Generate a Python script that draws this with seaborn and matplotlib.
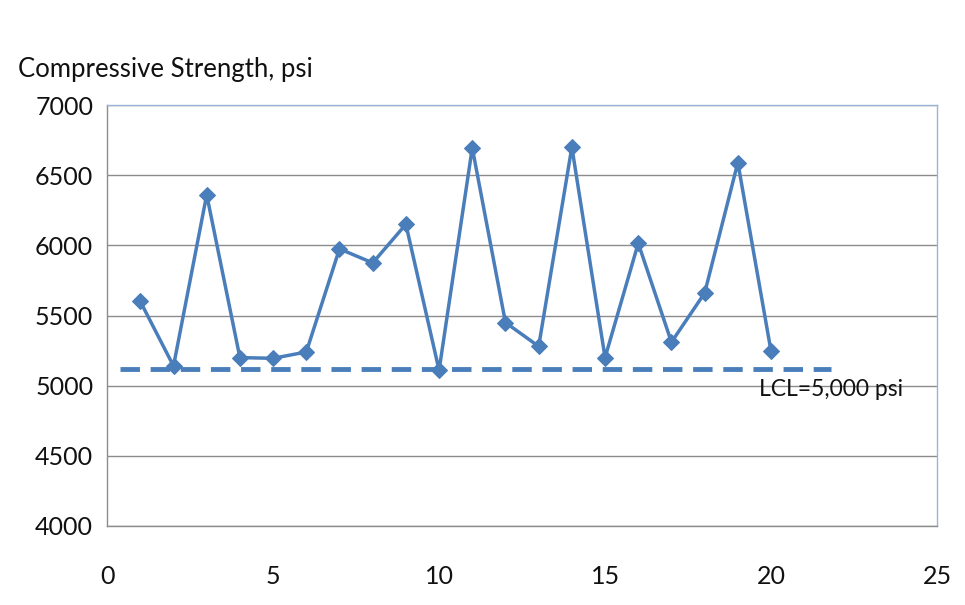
import matplotlib
matplotlib.use("Agg")
import matplotlib.pyplot as plt
import seaborn as sns
import pandas as pd

# data
sample = list(range(1, 21))
strength = [5600, 5140, 6360, 5200, 5195, 5240, 5975, 5875, 6150, 5110,
            6695, 5450, 5280, 6700, 5200, 6015, 5310, 5660, 6590, 5245]
lcl_x = [0.4, 21.8]
lcl_y = [5120, 5120]

sns.set_style("white")
plt.rcParams['font.family'] = ['Lato', 'DejaVu Sans']

blue = '#4A7EBB'
df = pd.DataFrame({'sample': sample, 'strength': strength})

fig = plt.figure(figsize=(9.65, 6.05), dpi=100)
ax = fig.add_axes([0.111, 0.1306, 0.86, 0.6958])

ax.grid(True, axis='y', color='#8c8c8c', linewidth=1.0)
ax.set_axisbelow(True)

sns.lineplot(data=df, x='sample', y='strength', ax=ax, color=blue,
             linewidth=2.5, marker='D', markersize=8.5, markeredgecolor=blue)
ax.plot(lcl_x, lcl_y, color=blue, linewidth=3.5, linestyle=(0, (4, 2.2)))

ax.set_xlim(0, 25)
ax.set_ylim(4000, 7000)
ax.set_xticks(range(0, 26, 5))
ax.set_yticks(range(4000, 7001, 500))
ax.set_xlabel('')
ax.set_ylabel('')

for s in ['left', 'bottom']:
    ax.spines[s].set_color('#8c8c8c')
    ax.spines[s].set_linewidth(1.0)
for s in ['top', 'right']:
    ax.spines[s].set_color('#9bb5d9')
    ax.spines[s].set_linewidth(1.0)

ax.tick_params(axis='both', direction='out', length=6, width=1.0,
               color='#8c8c8c', labelsize=18, labelcolor='#111111')
ax.tick_params(axis='x', pad=22)
ax.tick_params(axis='y', pad=4)

fig.text(0.019, 0.885, 'Compressive Strength, psi', fontsize=18.5,
         color='#111111', ha='left', va='center')
ax.text(19.65, 4975, 'LCL=5,000 psi', fontsize=16.5, color='#111111',
        ha='left', va='center')

fig.savefig('out.png', dpi=100)
